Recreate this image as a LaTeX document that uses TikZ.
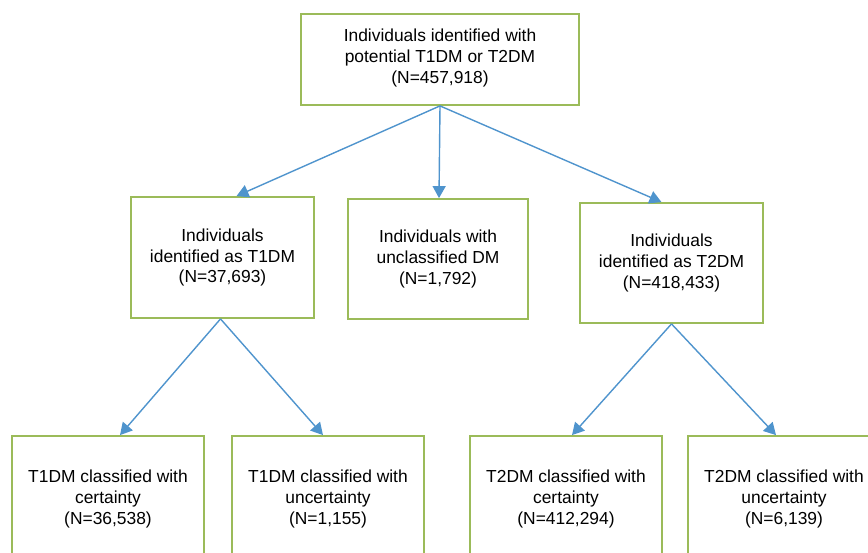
\documentclass[tikz,border=0pt]{standalone}
\usepackage{fontspec}
\setmainfont{Liberation Sans}
\usetikzlibrary{arrows.meta}
\definecolor{boxgreen}{RGB}{155,187,89}
\definecolor{arrowblue}{RGB}{79,148,205}

\begin{document}
\begin{tikzpicture}[x=1pt,y=-1pt,
		stage/.style={draw=boxgreen, line width=1.8pt, fill=white, align=center, inner sep=0pt,
			font=\fontsize{17.4}{20.6}\selectfont},
		flow/.style={draw=arrowblue, line width=1.4pt, -{Triangle[width=13pt,length=12pt]}}]
		%%%%% START %%%%%
		\useasboundingbox (0, 0) rectangle (868, 552);
		
		% top
		\node[stage, minimum width=278, minimum height=91] (all) at (440, 59.5)
			{Individuals identified with\\potential T1DM or T2DM\\(N=457,918)\\[-14pt]};
		
		% middle row
		\node[stage, minimum width=183, minimum height=121] (t1) at (222.5, 257.5)
			{Individuals\\identified as T1DM\\(N=37,693)};
		\node[stage, minimum width=180, minimum height=120] (undm) at (438, 259)
			{Individuals with\\unclassified DM\\(N=1,792)};
		\node[stage, minimum width=183, minimum height=120] (t2) at (671.5, 263)
			{Individuals\\identified as T2DM\\(N=418,433)};
		
		% bottom row
		\node[stage, minimum width=192, minimum height=126] (t1cert) at (108, 499)
			{T1DM classified with\\certainty\\(N=36,538)};
		\node[stage, minimum width=192, minimum height=126] (t1unc) at (328, 499)
			{T1DM classified with\\uncertainty\\(N=1,155)};
		\node[stage, minimum width=192, minimum height=126] (t2cert) at (566, 499)
			{T2DM classified with\\certainty\\(N=412,294)};
		\node[stage, minimum width=192, minimum height=126] (t2unc) at (784, 499)
			{T2DM classified with\\uncertainty\\(N=6,139)};
		
		% arrows
		\draw[flow] (all.south) -- ([xshift=14]t1.north);
		\draw[flow] (all.south) -- ([xshift=1]undm.north);
		\draw[flow] (all.south) -- ([xshift=-10]t2.north);
		
		\draw[flow] ([xshift=-2]t1.south) -- ([xshift=12]t1cert.north);
		\draw[flow] ([xshift=-2]t1.south) -- ([xshift=-5]t1unc.north);
		
		\draw[flow] (t2.south) -- ([xshift=6]t2cert.north);
		\draw[flow] (t2.south) -- ([xshift=-8]t2unc.north);
		%%%%% END %%%%%
\end{tikzpicture}
\end{document}
